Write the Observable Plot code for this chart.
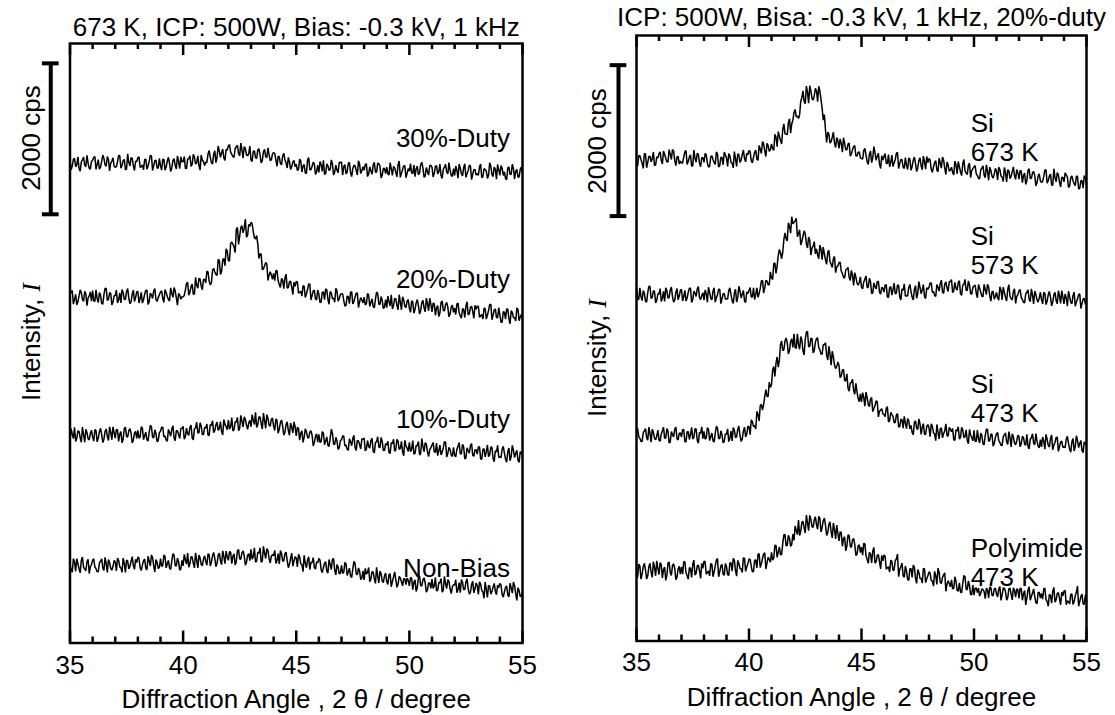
<!DOCTYPE html>
<html><head><meta charset="utf-8">
<script src="https://cdn.jsdelivr.net/npm/d3@7"></script>
<script src="https://cdn.jsdelivr.net/npm/@observablehq/plot@0.6"></script>
<style>
html,body{margin:0;padding:0;background:#fff;}
#fig{position:relative;width:1115px;height:715px;overflow:hidden;background:#fff;font-family:"Liberation Sans",Arial,sans-serif;color:#000;}
.panel{position:absolute;top:0;}
.rot{position:absolute;font-size:26px;line-height:1;white-space:nowrap;transform:translate(-50%,-50%) rotate(-90deg);}
.rot i{font-family:"Liberation Serif","DejaVu Serif",serif;}
</style></head><body><div id="fig"></div>
<script>
// ---- 2θ sampling grid (35° to 55°, 0.05° steps) and ticks ----
const angleStart = 35, angleStep = 0.05;
const xTicksMajor = [35, 40, 45, 50, 55];
const xTicksMinor = [36, 37, 38, 39, 41, 42, 43, 44, 46, 47, 48, 49, 51, 52, 53, 54];
const scaleBarCps = 2000;

// ---- left panel (673 K, duty series), intensity in cps ----
const leftNames = ["Non-Bias", "10%-Duty", "20%-Duty", "30%-Duty"];
const leftOffsets = [0, 1750, 3550, 5360];
const nonBias = [
1038,970,939,1120,1074,950,1119,1050,984,930,1092,1140,1002,980,957,1080,1110,920,1011,1040,
1097,1115,1007,985,944,945,1061,1085,1115,995,962,1135,1052,935,1106,1065,989,965,1016,1095,
1071,955,1125,1095,1008,995,936,1125,1053,935,1098,1085,981,1015,1080,1145,1026,975,1107,1065,
1140,1120,996,960,1032,1090,1113,990,969,1150,1086,1020,1167,1130,1023,940,1104,1070,987,1000,
1119,1015,1029,1165,1146,995,1047,1095,993,975,1092,1185,1164,1025,1020,1125,1074,965,984,1095,
1022,1175,1103,1045,1193,1005,1049,1145,1139,1055,995,1195,1094,995,1166,1125,1040,1025,1112,1155,
1083,1030,1182,1170,1020,1070,1155,1200,1119,1010,1056,1160,1191,1090,1038,1220,1146,1050,1218,1140,
1095,1210,1203,1050,1149,1180,1032,1080,1221,1240,1113,1110,1194,1220,1158,1030,1068,1160,1185,1090,
1240,1110,1140,1260,1070,1090,1200,1190,1260,1070,1090,1280,1190,1120,1250,1220,1120,1060,1150,1170,
1158,1228,1054,1093,1184,1048,1224,1183,1084,1088,1187,1203,1092,998,1042,1123,1191,1018,1086,1143,
1126,1007,1174,1142,1051,1037,946,1162,1056,997,1095,1142,972,1067,1065,1132,1002,979,1075,1063,
1120,1097,970,932,1001,1057,1076,952,927,1107,1038,972,1113,1117,964,902,1039,1007,917,927,
1029,923,935,1069,1048,895,945,991,887,867,982,1083,1051,919,903,995,951,841,858,957,
837,988,914,934,1000,812,852,946,938,854,790,1002,885,796,953,918,820,800,891,927,
813,777,909,915,744,813,877,941,838,737,781,884,860,811,758,850,852,775,860,830,
755,868,860,708,803,836,683,734,869,890,759,757,837,864,798,672,705,796,795,724,
847,723,755,870,692,696,801,796,853,674,700,883,788,722,840,816,718,654,743,772,
768,838,667,708,799,666,842,804,704,712,810,850,718,648,671,776,817,664,718,796,
761,643,812,781,693,679,592,807,707,605,765,753,646,681,743,789,686,640,767,730,
790,768,644,608,678,736,757,634,611,792,728,660,807,758,654,564,733,694,613,624,
675];
const duty10 = [
937,1090,1018,960,1108,920,964,1060,1054,970,910,1110,1009,910,1081,1040,955,940,1027,1070,
978,925,1077,1065,915,965,1050,1095,1014,905,951,1055,1086,985,933,1115,1041,945,1113,1035,
965,1080,1073,920,1019,1050,902,950,1091,1110,983,980,1064,1090,1028,900,938,1030,1055,960,
1069,965,979,1115,1096,945,997,1045,943,925,1042,1135,1114,975,970,1075,1024,915,934,1035,
1056,1110,1110,980,993,940,921,1080,1038,990,1083,1130,966,930,1065,1060,1011,960,1092,1095,
1120,952,981,1097,1022,1002,1108,1137,969,942,1091,1097,1177,1032,1038,1167,1124,1012,1012,1107,
1098,1152,1004,997,1144,1132,1194,1037,1064,1142,1177,1067,1092,1182,1052,1007,1210,1142,1116,1077,
1202,1082,1117,1237,1059,1072,1181,1177,1240,1062,1092,1267,1187,1112,1246,1217,1134,1082,1166,1200,
1115,1275,1205,1145,1305,1105,1145,1245,1245,1155,1085,1295,1195,1095,1275,1225,1135,1125,1215,1230,
1120,1065,1220,1195,1030,1085,1170,1205,1120,1005,1040,1145,1180,1065,1000,1165,1110,1035,1180,1115,
995,1106,1095,938,1032,1061,909,977,1089,1047,974,965,1046,1060,1002,860,904,990,1020,912,
1014,906,919,1051,1031,876,927,981,868,856,962,1081,1029,886,880,976,929,816,834,933,
941,992,993,860,874,818,803,956,917,864,959,1002,839,800,935,928,878,820,954,948,
965,795,820,933,854,833,935,961,790,769,905,917,983,847,839,975,917,803,799,891,
873,923,773,762,906,891,950,791,814,949,921,815,830,923,783,731,934,860,833,788,
907,784,816,933,752,763,868,862,920,741,764,959,852,785,904,883,786,721,813,837,
874,907,782,775,898,733,799,871,742,779,838,917,907,715,761,842,812,740,721,842,
737,717,816,855,904,755,758,883,846,689,702,835,797,765,867,893,739,723,809,812,
753,847,850,687,686,816,823,716,785,874,720,742,849,844,694,652,798,782,870,712,
715,707,821,856,765,685,646,784,833,664,723,869,802,706,764,804,672,644,787,762,
740];
const duty20 = [
1066,1100,1120,940,1003,1070,931,970,1048,1130,1093,1000,976,1110,1075,920,1021,1050,1102,980,
1120,980,976,1130,1012,960,1093,1060,949,940,1066,1150,1147,990,1003,1090,1084,930,967,1050,
1053,1125,954,995,1089,955,1134,1095,999,1005,1107,1145,1017,945,972,1075,1125,975,1026,1105,
1107,955,1017,1095,954,995,1071,1125,1125,935,972,1085,1062,1015,1116,1145,999,975,1026,1065,
1099,1117,1013,961,1134,1094,1040,1000,981,1155,1084,1029,1160,1113,1021,927,1080,1061,1004,1037,
1037,1055,1128,1215,1228,1058,1099,1173,1204,1068,1075,1293,1189,1150,1281,1270,1175,1130,1267,1268,
1222,1376,1368,1245,1195,1222,1385,1415,1366,1334,1319,1535,1519,1332,1372,1528,1544,1448,1672,1644,
1515,1511,1741,1763,1733,1698,1624,1927,1957,1730,1841,1955,1978,1884,1946,2068,1826,1852,1995,1969,
2026,2005,1901,1819,1802,1849,1736,1544,1610,1600,1397,1407,1447,1493,1471,1254,1324,1370,1326,1267,
1346,1252,1383,1385,1249,1198,1160,1281,1260,1144,1288,1337,1154,1160,1236,1243,1165,1067,1232,1175,
1240,1235,1086,1095,1112,1045,1183,1175,1029,1075,1136,1205,1207,995,1053,1115,1124,1005,997,1127,
1073,958,970,1098,1101,998,1142,1128,1003,938,1107,1088,1013,1018,964,1148,1113,978,1011,1068,
1077,1075,987,915,924,1045,1041,945,1095,1105,942,975,1032,1085,1086,895,969,1025,996,955,
1034,930,944,1080,1061,910,962,1010,908,890,1007,1100,1079,940,935,1040,989,880,899,1000,
892,1045,973,915,1063,875,919,1015,1009,925,865,1065,964,865,1036,995,910,895,982,1000,
883,830,982,970,820,870,955,1000,919,810,856,960,991,890,838,1020,946,850,1018,940,
837,952,945,792,891,922,774,822,963,982,855,852,936,962,900,772,810,902,927,832,
888,802,942,952,825,782,753,882,870,762,915,972,798,812,897,912,843,752,924,872,
912,912,768,782,804,742,885,882,741,792,858,932,939,732,795,862,876,762,759,892,
798,700,699,840,834,740,879,870,744,680,852,830,762,760,717,890,870,720,771,800,
750];
const duty30 = [
1038,910,958,1050,1062,950,974,1080,926,890,1014,1040,1078,970,950,1100,998,930,918,1020,
1037,1075,1085,915,981,1045,917,945,1021,1105,1061,975,957,1085,1045,895,997,1025,1069,955,
944,950,1016,1100,1096,930,968,1030,1048,910,920,1120,1008,960,1072,1060,960,900,1024,1020,
1070,1080,942,950,974,910,1046,1050,918,960,1022,1100,1094,900,966,1030,1038,930,934,1060,
961,905,1049,1045,905,945,1025,1075,993,885,937,1035,1057,965,921,1095,1017,925,1081,1015,
1016,1085,931,925,1054,1055,1097,955,980,1115,1079,985,1002,1095,965,905,1104,1035,1019,965,
1010,1005,1116,1165,1078,1005,984,1115,1162,1005,1076,1225,1158,1075,1136,1185,1066,1035,1180,1170,
1224,1245,1144,1115,1088,1075,1192,1215,1235,1125,1094,1265,1174,1065,1217,1195,1108,1095,1127,1225,
1038,1020,1155,1160,1072,1060,1173,1190,1106,1000,1031,1150,1179,1080,1073,1200,1110,1030,1043,1120,
1140,1125,1045,955,1087,1085,993,975,1091,1130,1044,1000,933,1075,1015,915,952,1015,1034,950,
984,900,917,1050,1026,880,959,980,868,860,1041,1070,911,910,957,1010,987,850,881,970,
874,1020,978,890,1034,850,858,990,962,900,914,1040,986,840,882,970,906,870,1010,1000,
1016,840,952,980,856,880,992,1010,872,820,928,970,960,900,840,1030,984,860,896,950,
902,980,990,820,854,950,894,850,974,1010,878,880,998,990,958,800,838,930,926,860,
945,855,841,1005,921,835,953,935,881,815,977,1025,809,865,913,965,961,805,865,925,
892,990,868,860,972,820,924,960,844,870,980,1010,932,810,828,940,884,840,964,970,
943,815,863,955,967,855,879,985,831,795,919,945,983,875,855,1005,903,835,823,925,
834,960,906,800,986,930,858,830,938,990,810,860,898,970,962,780,850,910,914,840,
861,835,949,985,805,815,925,915,893,795,837,1005,957,845,821,945,917,785,981,905,
835,965,931,835,883,795,779,935,947,845,851,985,923,785,891,915,811,815,915,945,
870];

// ---- right panel (ICP 500 W, 20%-duty; substrate / temperature) ----
const rightNames = ["Polyimide\n473 K", "Si\n473 K", "Si\n573 K", "Si\n673 K"];
const rightOffsets = [0, 1800, 3650, 5450];
const poly473 = [
897,842,1018,996,820,886,985,1029,941,820,864,985,1029,908,842,1051,974,864,1062,963,
880,1040,1012,836,946,979,803,869,1034,1045,902,870,1001,1023,957,814,847,957,990,885,
984,885,1050,1050,907,863,819,973,962,841,1017,1072,874,896,995,1006,929,830,1028,962,
1060,1049,884,906,928,862,1027,1016,851,917,994,1071,1093,851,917,994,1016,884,873,1027,
987,879,869,1034,1037,924,1095,1069,933,860,1068,1028,961,955,909,1101,1098,922,979,1023,
1088,1082,988,916,921,1069,1074,969,1150,1155,973,1022,1093,1153,1169,954,1036,1107,1079,1045,
1176,1070,1096,1265,1269,1108,1178,1248,1142,1146,1293,1407,1411,1261,1265,1401,1361,1255,1281,1417,
1333,1524,1462,1411,1602,1397,1456,1576,1586,1497,1430,1669,1566,1461,1664,1612,1515,1504,1603,1647,
1537,1480,1653,1626,1445,1504,1595,1629,1531,1400,1434,1545,1579,1446,1367,1564,1474,1352,1537,1426,
1325,1447,1439,1255,1355,1382,1194,1256,1407,1398,1257,1239,1338,1359,1276,1134,1148,1260,1273,1170,
1244,1137,1293,1285,1133,1081,1028,1174,1154,1034,1192,1240,1032,1050,1136,1143,1053,955,1135,1062,
1140,1124,952,969,984,913,1071,1055,934,944,1064,1086,1151,853,949,986,1032,864,845,992,
930,816,801,959,958,842,1005,978,832,764,948,910,830,828,767,963,956,774,825,865,
916,899,800,795,727,922,864,750,968,909,775,761,843,876,903,659,754,799,763,717,
811,690,698,852,791,672,661,772,647,640,763,867,855,690,676,797,736,613,619,740,
608,700,704,642,700,596,633,690,680,654,562,700,680,570,715,708,608,597,691,700,
622,585,690,720,539,610,701,700,655,540,575,690,700,620,545,705,672,580,690,680,
565,700,694,540,625,670,479,570,675,720,540,590,635,690,588,510,493,640,648,570,
629,555,692,700,546,525,461,620,603,500,657,710,513,545,631,640,562,480,648,600,
660,670,481,530,522,490,618,625,484,520,598,650,728,460,522,590,621,490,487,610,
520];
const si473 = [
997,1015,907,885,844,845,961,985,1015,895,862,1035,952,835,1006,965,889,865,916,995,
862,845,943,985,1033,885,889,1015,979,825,835,975,934,905,1006,1035,880,865,952,955,
903,1000,1002,840,840,970,975,870,939,1030,876,900,1011,1010,858,820,966,950,1038,880,
979,875,889,1025,1006,855,907,955,853,835,952,1045,1024,885,880,985,934,825,844,945,
938,1012,842,886,980,850,1028,994,896,904,1007,1048,920,844,878,981,1034,903,941,1045,
1040,935,1130,1110,1040,1055,1010,1240,1200,1115,1320,1335,1260,1335,1440,1530,1440,1440,1630,1560,
1595,1789,1837,1707,1881,1963,1828,1923,2129,2175,2047,2059,2176,2216,2152,2003,2052,2169,2205,2090,
2270,2090,2078,2270,2126,2066,2234,2186,2042,1990,2198,2294,2301,2100,2104,2212,2207,2017,2046,2157,
2208,2214,2088,2061,2001,2002,2124,2126,2150,1987,1923,2106,2003,1856,2039,1964,1856,1809,1839,1897,
1850,1690,1710,1790,1800,1650,1650,1740,1550,1510,1620,1625,1670,1520,1470,1615,1500,1415,1370,1475,
1367,1490,1428,1312,1498,1424,1334,1306,1404,1426,1240,1280,1319,1380,1371,1170,1245,1260,1277,1210,
1203,1172,1284,1306,1104,1118,1231,1200,1177,1092,1096,1194,1213,1036,1042,1138,1132,1020,1178,1085,
1015,1147,1116,1011,1057,965,932,1098,1117,1020,1003,1143,1078,937,1036,1080,936,940,1045,1067,
1026,908,1077,1045,957,942,855,1069,969,876,1011,1023,891,950,985,1078,923,915,1032,1003,
973,1017,868,857,999,982,1038,877,897,1031,999,894,907,999,856,814,1003,926,896,852,
990,848,844,996,878,824,955,922,811,800,925,1006,1005,844,859,942,936,780,817,898,
947,962,855,832,793,790,907,929,959,837,805,974,893,772,945,902,826,800,851,928,
909,773,817,911,896,809,795,937,779,745,875,891,946,821,800,949,851,779,759,868,
772,903,851,742,939,871,793,771,880,929,734,796,830,896,900,713,774,838,847,768,
770,763,876,912,820,741,701,840,884,718,778,920,855,762,817,858,725,696,840,812,
790];
const si573 = [
1020,880,876,1030,912,860,993,960,849,840,966,1050,1047,890,903,990,984,830,867,950,
948,1020,849,890,984,850,1029,990,894,900,1002,1040,912,840,867,970,1020,870,921,1000,
1007,855,917,995,854,895,971,1025,1025,835,872,985,962,915,1016,1045,899,875,926,965,
867,1000,948,840,1038,970,894,870,984,1030,840,900,939,1010,1011,820,885,950,957,880,
885,880,993,1030,939,860,822,960,1011,840,903,1050,984,895,948,995,858,835,975,955,
994,1032,909,908,1031,875,942,1028,903,955,1022,1122,1129,960,1025,1130,1119,1070,1069,1242,
1162,1140,1348,1361,1220,1321,1455,1539,1491,1415,1504,1670,1759,1678,1652,1891,1844,1754,1972,1878,
1898,1917,1950,1706,1744,1799,1598,1644,1714,1785,1744,1612,1558,1703,1660,1464,1558,1580,1641,1480,
1545,1465,1415,1595,1545,1402,1570,1480,1400,1340,1500,1528,1375,1343,1300,1418,1445,1230,1305,1323,
1362,1370,1252,1220,1169,1160,1266,1280,1300,1170,1127,1260,1197,1060,1231,1170,1094,1065,1101,1175,
1037,1015,1108,1145,1188,1035,1034,1155,1114,955,960,1095,1049,1015,1111,1115,975,945,1037,1025,
973,1067,1069,907,904,1034,1046,932,1006,1092,949,959,1067,1062,912,869,1015,997,1083,922,
925,922,1035,1074,983,906,868,1008,1059,890,953,1112,1036,952,1002,1074,914,888,1033,1010,
1036,1094,1094,968,981,930,916,1074,1038,987,1088,1131,976,955,1080,1109,1027,981,1112,1110,
1140,966,992,1102,1023,999,1100,1124,952,930,1064,1074,1141,996,994,1122,1068,952,947,1036,
1054,1066,960,898,1073,1025,970,919,912,1075,1007,940,1075,1041,927,853,977,982,879,912,
968,896,866,1044,998,871,1040,969,902,855,1008,1072,916,888,868,984,1018,822,916,940,
992,1007,900,875,837,833,951,971,1002,878,845,1017,934,815,987,943,870,841,896,971,
873,817,970,955,808,853,940,981,902,791,843,937,971,861,817,991,923,823,993,911,
817,947,896,786,984,916,838,816,926,974,785,843,880,940,950,755,822,880,892,810,
860];
const si673 = [
875,840,983,980,929,880,812,1010,1001,820,893,970,974,900,938,1030,848,860,965,950,
1004,1030,919,870,1041,1000,947,900,898,1060,997,930,1064,1040,915,850,964,970,869,910,
882,885,961,1035,1049,865,903,965,991,845,845,1055,942,895,1012,995,884,835,952,955,
893,1010,992,880,830,840,965,980,929,890,866,1030,1001,830,848,960,956,860,1028,990,
951,837,1008,980,893,882,819,1035,938,838,1006,991,892,923,994,1056,943,899,1012,992,
1050,1035,916,885,962,1025,1053,935,919,1115,1066,1010,1167,1140,1043,970,1144,1115,1037,1058,
1135,1073,1050,1263,1225,1101,1300,1238,1180,1136,1330,1402,1270,1266,1260,1416,1470,1280,1400,1452,
1554,1593,1494,1507,1473,1524,1702,1752,1840,1699,1669,1902,1819,1677,1907,1838,1738,1718,1777,1874,
1838,1697,1900,1836,1724,1611,1451,1524,1318,1155,1293,1270,1146,1168,1225,1291,1151,1089,1222,1178,
1077,1203,1143,1028,1218,1143,1059,1058,1134,1148,975,1003,1059,1103,1116,978,975,1023,1032,950,
945,935,1047,1078,987,901,864,995,1043,889,948,1102,1020,918,974,1011,868,811,980,921,
974,1008,881,875,995,832,893,989,836,885,930,1012,1026,810,876,932,926,828,812,955,
853,798,950,936,786,834,918,962,879,770,818,918,951,846,794,974,900,802,970,890,
945,922,799,761,833,891,913,791,767,949,883,815,962,923,816,731,895,860,777,788,
828,760,727,908,860,738,903,836,764,716,871,930,780,754,730,852,881,690,781,810,
832,850,740,718,677,676,793,814,846,721,690,859,776,657,829,784,710,683,736,813,
776,660,828,798,711,696,639,824,754,632,796,778,677,708,772,833,717,667,797,755,
670,785,776,623,720,751,601,649,786,807,677,680,753,773,715,580,625,713,740,645,
627,640,706,788,794,616,648,714,736,592,590,808,687,634,755,728,627,566,697,688,
633,753,727,698,560,578,690,713,649,608,582,708,708,538,550,648,651,550,715,690,
610];

// ---- build a panel ----
function rowsOf(series, offsets) {
  return series.flatMap((vals, k) => vals.map((v, i) => ({x: angleStart + i * angleStep, y: v + offsets[k], k})));
}

function panel(cfg) {
  const innerH = cfg.height - cfg.mTop - cfg.mBottom;
  const rows = rowsOf(cfg.series, cfg.offsets);
  const labels = cfg.names.map((name, k) => ({name, y: cfg.offsets[k] + cfg.labelLift[k]}));
  const barBottom = cfg.barTop - scaleBarCps;
  return Plot.plot({
    width: cfg.width, height: cfg.height,
    marginTop: cfg.mTop, marginBottom: cfg.mBottom, marginLeft: cfg.mLeft, marginRight: cfg.mRight,
    style: {fontFamily: "'Liberation Sans', Arial, sans-serif", fontSize: "26px", color: "#000", background: "transparent", overflow: "visible"},
    x: {domain: [35, 55]},
    y: {domain: [0, cfg.yMax], axis: null},
    marks: [
      Plot.line(rows, {x: "x", y: "y", z: "k", stroke: "#000", strokeWidth: 1.5, strokeLinejoin: "miter"}),
      Plot.ruleX(xTicksMajor, {x: d => d, insetTop: innerH - 12, stroke: "#000", strokeWidth: 2.5}),
      Plot.ruleX(xTicksMajor, {x: d => d, insetBottom: innerH - 12, stroke: "#000", strokeWidth: 2.5}),
      Plot.ruleX(xTicksMinor, {x: d => d, insetTop: innerH - 6, stroke: "#000", strokeWidth: 2.5}),
      Plot.ruleX(xTicksMinor, {x: d => d, insetBottom: innerH - 6, stroke: "#000", strokeWidth: 2.5}),
      Plot.frame({stroke: "#000", strokeWidth: 2.5}),
      Plot.axisX({ticks: xTicksMajor, anchor: "bottom", tickSize: 0, tickPadding: cfg.tickPad, fontSize: 26, label: null}),
      Plot.text([cfg.title], {frameAnchor: "top", dy: cfg.titleDy, fontSize: 26, lineAnchor: "middle"}),
      Plot.text(["Diffraction Angle , 2 \u03B8 / degree"], {frameAnchor: "bottom", dy: cfg.xlabDy, fontSize: 26, lineAnchor: "middle"}),
      Plot.ruleX([cfg.barX], {x: d => d, y1: () => barBottom, y2: () => cfg.barTop, stroke: "#000", strokeWidth: 4}),
      Plot.ruleY([barBottom, cfg.barTop], {y: d => d, x1: () => cfg.barX - 0.37, x2: () => cfg.barX + 0.37, stroke: "#000", strokeWidth: 4}),
      Plot.text(labels, {x: cfg.labelX, y: "y", text: "name", textAnchor: cfg.labelAnchor, fontSize: 26, lineHeight: 1.1, lineAnchor: "middle"})
    ]
  });
}

const fig = document.getElementById("fig");

const left = panel({
  width: 557, height: 715, mTop: 43, mBottom: 72.5, mLeft: 69.5, mRight: 35,
  yMax: 7943, series: [nonBias, duty10, duty20, duty30], offsets: leftOffsets, names: leftNames,
  labelLift: [1000, 1224, 1280, 1338], labelX: 54.45, labelAnchor: "end",
  title: "673 K, ICP: 500W, Bias: -0.3 kV, 1 kHz", titleDy: -16, xlabDy: 57, tickPad: 13,
  barX: 34.15, barTop: 7680
});
left.classList.add("panel"); left.style.left = "0px";
fig.appendChild(left);

const right = panel({
  width: 558, height: 715, mTop: 35, mBottom: 74.5, mLeft: 79, mRight: 29,
  yMax: 8023, series: [poly473, si473, si573, si673], offsets: rightOffsets, names: rightNames,
  labelLift: [1040, 1413, 1524, 1221], labelX: 49.85, labelAnchor: "start",
  title: "ICP: 500W, Bisa: -0.3 kV, 1 kHz, 20%-duty", titleDy: -18, xlabDy: 57, tickPad: 12,
  barX: 34.2, barTop: 7630
});
right.classList.add("panel"); right.style.left = "557px";
fig.appendChild(right);

function rotLabel(html, x, y) {
  const d = document.createElement("div");
  d.className = "rot"; d.innerHTML = html;
  d.style.left = x + "px"; d.style.top = y + "px";
  fig.appendChild(d);
}
rotLabel("2000 cps", 31, 138);
rotLabel("Intensity, <i>I</i>", 31, 342);
rotLabel("2000 cps", 597, 141);
rotLabel("Intensity, <i>I</i>", 597, 358);
</script></body></html>
